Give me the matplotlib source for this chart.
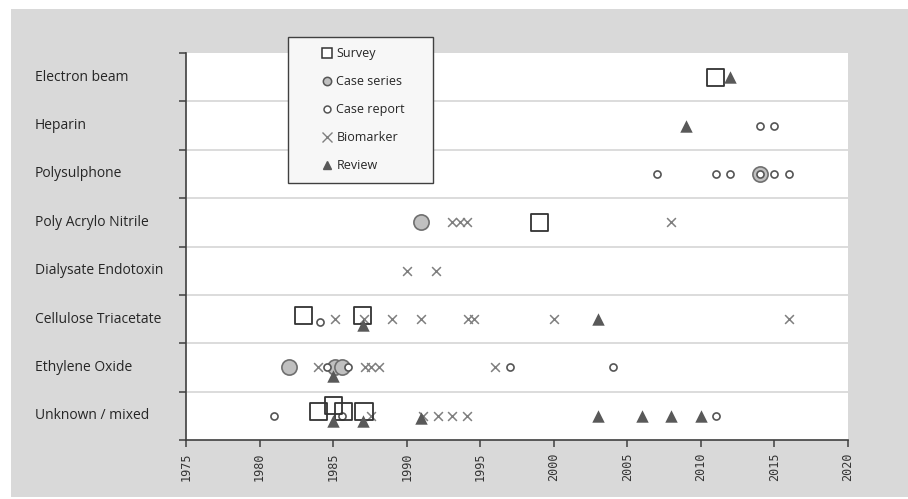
import matplotlib
matplotlib.use("Agg")
import matplotlib.pyplot as plt
from matplotlib.lines import Line2D
from matplotlib.patches import Rectangle
from matplotlib.transforms import blended_transform_factory

# row names, top to bottom
categories = ["Electron beam", "Heparin", "Polysulphone", "Poly Acrylo Nitrile",
              "Dialysate Endotoxin", "Cellulose Triacetate", "Ethylene Oxide",
              "Unknown / mixed"]
# y position of each row centre (bottom row = 0.5)
row_y = [7.5, 6.5, 5.5, 4.5, 3.5, 2.5, 1.5, 0.5]

# year / y values per study type (y slightly shifted where markers overlap)
survey_x = [2011, 1999, 1983, 1987, 1984, 1985, 1985.7, 1987.1]
survey_y = [7.5, 4.5, 2.58, 2.58, 0.585, 0.71, 0.585, 0.585]

series_x = [2014, 1991, 1982, 1985.1, 1985.6]
series_y = [5.5, 4.5, 1.5, 1.5, 1.5]

report_x = [2014, 2015, 2007, 2011, 2012, 2014, 2015, 2016, 1984.1,
            1984.6, 1986.0, 1997, 2004, 1981, 1985.6, 2011]
report_y = [6.5, 6.5, 5.5, 5.5, 5.5, 5.5, 5.5, 5.5, 2.44,
            1.5, 1.5, 1.5, 1.5, 0.5, 0.49, 0.5]

bio_x = [1993.05, 1993.6, 1994.1, 2008, 1990, 1992, 1985.1, 1987.1, 1989,
         1991, 1994.2, 1994.6, 2000, 2016, 1984.0, 1987.2, 1987.6, 1988.1,
         1996, 1987.6, 1991.1, 1992.1, 1993.1, 1994.1]
bio_y = [4.5, 4.5, 4.5, 4.5, 3.5, 3.5, 2.5, 2.5, 2.5,
         2.5, 2.5, 2.5, 2.5, 2.5, 1.5, 1.5, 1.5, 1.5,
         1.5, 0.5, 0.5, 0.5, 0.5, 0.5]

review_x = [2012, 2009, 1987, 2003, 1985, 1985, 1987, 1991, 2003, 2006, 2008, 2010]
review_y = [7.5, 6.5, 2.38, 2.5, 1.32, 0.4, 0.4, 0.45, 0.5, 0.5, 0.5, 0.5]

W, H = 908, 499
fig = plt.figure(figsize=(W / 100, H / 100), dpi=100, facecolor="white")
# grey chart area
fig.patches.append(Rectangle((11 / W, 2 / H), (W - 11) / W, (H - 11) / H,
                             transform=fig.transFigure, facecolor="#d9d9d9",
                             edgecolor="none", zorder=-5))

ax = fig.add_axes([186 / W, 1 - 440 / H, (848 - 186) / W, (440 - 53) / H])
ax.set_zorder(1)
ax.set_facecolor("white")
ax.set_xlim(1975, 2020)
ax.set_ylim(0, 8)

for y in range(1, 8):
    ax.axhline(y, color="#d9d9d9", lw=1.3, zorder=1)

ax.scatter(bio_x, bio_y, marker="x", s=40, c="#7f7f7f", linewidths=1.1, zorder=3)
ax.scatter(series_x, series_y, marker="o", s=120, facecolor="#c0c0c0",
           edgecolor="#6f6f6f", linewidths=1.2, zorder=3)
ax.scatter(report_x, report_y, marker="o", s=26, facecolor="white",
           edgecolor="#555555", linewidths=1.2, zorder=4)
ax.scatter(survey_x, survey_y, marker="s", s=150, facecolor="none",
           edgecolor="#333333", linewidths=1.3, zorder=5)
ax.scatter(review_x, review_y, marker="^", s=80, c="#595959",
           linewidths=0, zorder=6)

for s in ["top", "right"]:
    ax.spines[s].set_visible(False)
for s in ["left", "bottom"]:
    ax.spines[s].set_color("#404040")
    ax.spines[s].set_linewidth(1.2)

ax.set_xticks(range(1975, 2021, 5))
ax.set_xticklabels([str(v) for v in range(1975, 2021, 5)], rotation=90,
                   fontsize=8.5, color="#333333", family="DejaVu Sans Mono")
ax.set_yticks(range(0, 9))
ax.set_yticklabels([])
ax.tick_params(axis="both", direction="out", length=5, width=1.1,
               color="#404040")
ax.tick_params(axis="x", pad=4)

lab_tr = blended_transform_factory(fig.transFigure, ax.transData)
for name, y in zip(categories, row_y):
    ax.text(35 / W, y, name, transform=lab_tr, ha="left", va="center",
            fontsize=10, color="#262626", family="Open Sans", clip_on=False)

# legend box
fig.patches.append(Rectangle((288 / W, 1 - 183 / H), 145 / W, 146 / H,
                             transform=fig.transFigure, facecolor="#f7f7f7",
                             edgecolor="#404040", linewidth=1.0, zorder=5))
handles = [
    Line2D([], [], ls="none", marker="s", ms=7.5, mfc="white", mec="#333333", mew=1.1),
    Line2D([], [], ls="none", marker="o", ms=6, mfc="#c0c0c0", mec="#555555", mew=1.1),
    Line2D([], [], ls="none", marker="o", ms=5, mfc="white", mec="#555555", mew=1.1),
    Line2D([], [], ls="none", marker="x", ms=7, mec="#7f7f7f", mew=1.0),
    Line2D([], [], ls="none", marker="^", ms=6, mfc="#595959", mec="#595959"),
]
labels = ["Survey", "Case series", "Case report", "Biomarker", "Review"]
leg = fig.legend(handles, labels, loc="upper left",
                 bbox_to_anchor=(314 / W, 1 - 41 / H), bbox_transform=fig.transFigure,
                 frameon=False, handlelength=1.0, handletextpad=0.3,
                 labelspacing=1.2, borderpad=0, prop={"family": "Open Sans", "size": 9})
leg.set_zorder(6)
for t in leg.get_texts():
    t.set_color("#262626")

fig.savefig("out.png", dpi=100, facecolor="white")
